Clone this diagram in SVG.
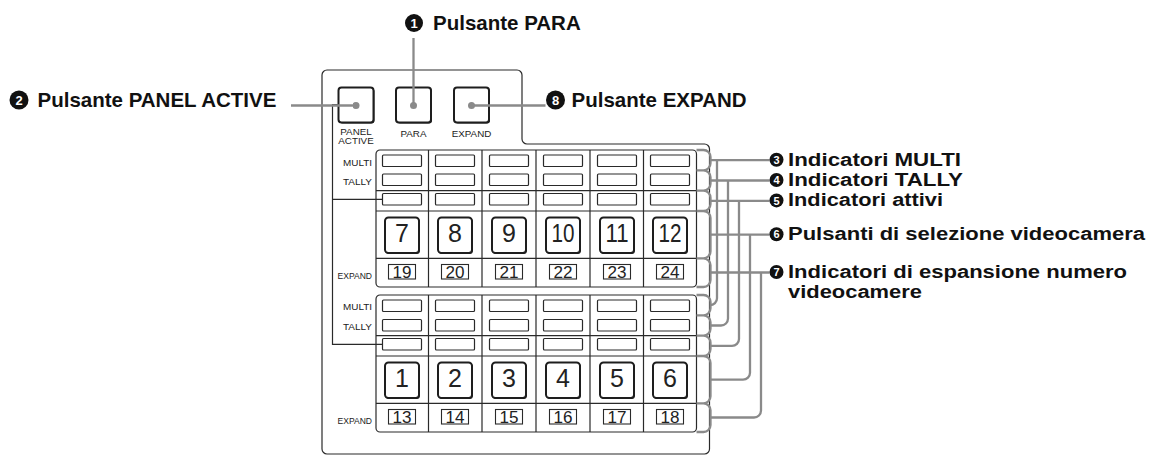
<svg xmlns="http://www.w3.org/2000/svg" width="1153" height="455" viewBox="0 0 1153 455">
<style>
.ln{fill:none;stroke:#2a2a2a;stroke-width:1.2}
.ind{fill:#fff;stroke:#2a2a2a;stroke-width:1.2}
.btnsh{fill:#1e1e1e}
.btn{fill:#fff;stroke:#1e1e1e;stroke-width:2}
.sbox{fill:#fff;stroke:#2a2a2a;stroke-width:1.1}
.gr{fill:none;stroke:#8a8a8a;stroke-width:2.3}
.lbl{font-family:"Liberation Sans",Arial,sans-serif;fill:#222}
.sm{font-size:9.5px;text-anchor:end}
.bl{font-size:9.8px;text-anchor:middle}
.num{font-size:25px;text-anchor:middle}
.snum{font-size:16px;text-anchor:middle}
.big{font-family:"Liberation Sans",Arial,sans-serif;font-weight:bold;fill:#111}
.t20{font-size:20.5px}
.t18{font-size:17.5px}
.cd{font-family:"Liberation Sans",Arial,sans-serif;font-weight:bold;fill:#fff;text-anchor:middle}
</style>
<defs>
<marker id="dot" viewBox="0 0 10 10" refX="5" refY="5" markerWidth="7" markerHeight="7" markerUnits="userSpaceOnUse"><circle cx="5" cy="5" r="5" fill="#8a8a8a"/></marker>
<g id="blk">
<rect x="376" y="0" width="320.5" height="137" rx="4" class="ln" fill="#fff"/>
<path class="ln" d="M428.5,0V137M482,0V137M536,0V137M590,0V137M643.5,0V137M376,40.7H696.5M376,61H696.5M376,108.3H696.5"/>
</g>
</defs>
<rect width="1153" height="455" fill="#fff"/>
<g id="panel">
<path class="ln" d="M327,70H517A5,5 0 0 1 522,75V139A5,5 0 0 0 527,144H704.5A5,5 0 0 1 709.5,149V449A5,5 0 0 1 704.5,454H327A5,5 0 0 1 322,449V75A5,5 0 0 1 327,70Z"/>
</g>
<g id="btn-panel-active">
<rect class="btnsh" x="339.5" y="88.5" width="35" height="35" rx="3"/>
<rect class="btn" x="338.5" y="87.5" width="35" height="35" rx="3"/>
<text class="lbl bl" x="356" y="134.8">PANEL</text>
<text class="lbl bl" x="356" y="143.5">ACTIVE</text>
</g>
<g id="btn-para">
<rect class="btnsh" x="397" y="88.5" width="35" height="35" rx="3"/>
<rect class="btn" x="396" y="87.5" width="35" height="35" rx="3"/>
<text class="lbl bl" x="413.5" y="136.5">PARA</text>
</g>
<g id="btn-expand">
<rect class="btnsh" x="455" y="88.5" width="35" height="35" rx="3"/>
<rect class="btn" x="454" y="87.5" width="35" height="35" rx="3"/>
<text class="lbl bl" x="471.5" y="136.5">EXPAND</text>
</g>
<g id="block-upper">
<use href="#blk" transform="translate(0,150)"/>
<text class="lbl sm" x="372" y="165.5" textLength="29" lengthAdjust="spacingAndGlyphs">MULTI</text>
<text class="lbl sm" x="372" y="185" textLength="29" lengthAdjust="spacingAndGlyphs">TALLY</text>
<text class="lbl sm" x="372" y="279" textLength="34.5" lengthAdjust="spacingAndGlyphs">EXPAND</text>
<g>
<rect class="ind" x="382.5" y="155" width="39" height="11.5" rx="1"/><rect class="ind" x="435.5" y="155" width="39" height="11.5" rx="1"/><rect class="ind" x="489.5" y="155" width="39" height="11.5" rx="1"/><rect class="ind" x="543.5" y="155" width="39" height="11.5" rx="1"/><rect class="ind" x="597.5" y="155" width="39" height="11.5" rx="1"/><rect class="ind" x="650.5" y="155" width="39" height="11.5" rx="1"/>
<rect class="ind" x="382.5" y="174" width="39" height="11.5" rx="1"/><rect class="ind" x="435.5" y="174" width="39" height="11.5" rx="1"/><rect class="ind" x="489.5" y="174" width="39" height="11.5" rx="1"/><rect class="ind" x="543.5" y="174" width="39" height="11.5" rx="1"/><rect class="ind" x="597.5" y="174" width="39" height="11.5" rx="1"/><rect class="ind" x="650.5" y="174" width="39" height="11.5" rx="1"/>
<rect class="ind" x="382.5" y="193.5" width="39" height="11.5" rx="1"/><rect class="ind" x="435.5" y="193.5" width="39" height="11.5" rx="1"/><rect class="ind" x="489.5" y="193.5" width="39" height="11.5" rx="1"/><rect class="ind" x="543.5" y="193.5" width="39" height="11.5" rx="1"/><rect class="ind" x="597.5" y="193.5" width="39" height="11.5" rx="1"/><rect class="ind" x="650.5" y="193.5" width="39" height="11.5" rx="1"/>
</g>
<g>
<rect class="btnsh" x="386" y="218.5" width="34" height="35.5" rx="3.5"/><rect class="btn" x="385" y="217.5" width="34" height="35.5" rx="3.5"/>
<rect class="btnsh" x="439" y="218.5" width="34" height="35.5" rx="3.5"/><rect class="btn" x="438" y="217.5" width="34" height="35.5" rx="3.5"/>
<rect class="btnsh" x="493" y="218.5" width="34" height="35.5" rx="3.5"/><rect class="btn" x="492" y="217.5" width="34" height="35.5" rx="3.5"/>
<rect class="btnsh" x="547" y="218.5" width="34" height="35.5" rx="3.5"/><rect class="btn" x="546" y="217.5" width="34" height="35.5" rx="3.5"/>
<rect class="btnsh" x="601" y="218.5" width="34" height="35.5" rx="3.5"/><rect class="btn" x="600" y="217.5" width="34" height="35.5" rx="3.5"/>
<rect class="btnsh" x="654" y="218.5" width="34" height="35.5" rx="3.5"/><rect class="btn" x="653" y="217.5" width="34" height="35.5" rx="3.5"/>
<text class="lbl num" x="402" y="242">7</text>
<text class="lbl num" x="455" y="242">8</text>
<text class="lbl num" x="509" y="242">9</text>
<text class="lbl num" x="563" y="242" textLength="23" lengthAdjust="spacingAndGlyphs">10</text>
<text class="lbl num" x="617" y="242" textLength="23" lengthAdjust="spacingAndGlyphs">11</text>
<text class="lbl num" x="670" y="242" textLength="23" lengthAdjust="spacingAndGlyphs">12</text>
</g>
<g>
<rect class="sbox" x="388.5" y="264.5" width="27" height="14.5"/><rect class="sbox" x="441.5" y="264.5" width="27" height="14.5"/><rect class="sbox" x="495.5" y="264.5" width="27" height="14.5"/><rect class="sbox" x="549.5" y="264.5" width="27" height="14.5"/><rect class="sbox" x="603.5" y="264.5" width="27" height="14.5"/><rect class="sbox" x="656.5" y="264.5" width="27" height="14.5"/>
<text class="lbl snum" x="402" y="277.8" textLength="19" lengthAdjust="spacingAndGlyphs">19</text>
<text class="lbl snum" x="455" y="277.8" textLength="19" lengthAdjust="spacingAndGlyphs">20</text>
<text class="lbl snum" x="509" y="277.8" textLength="19" lengthAdjust="spacingAndGlyphs">21</text>
<text class="lbl snum" x="563" y="277.8" textLength="19" lengthAdjust="spacingAndGlyphs">22</text>
<text class="lbl snum" x="617" y="277.8" textLength="19" lengthAdjust="spacingAndGlyphs">23</text>
<text class="lbl snum" x="670" y="277.8" textLength="19" lengthAdjust="spacingAndGlyphs">24</text>
</g>
</g>
<g id="block-lower">
<use href="#blk" transform="translate(0,295)"/>
<text class="lbl sm" x="372" y="310" textLength="29" lengthAdjust="spacingAndGlyphs">MULTI</text>
<text class="lbl sm" x="372" y="329.5" textLength="29" lengthAdjust="spacingAndGlyphs">TALLY</text>
<text class="lbl sm" x="372" y="423.5" textLength="34.5" lengthAdjust="spacingAndGlyphs">EXPAND</text>
<g>
<rect class="ind" x="382.5" y="300" width="39" height="11.5" rx="1"/><rect class="ind" x="435.5" y="300" width="39" height="11.5" rx="1"/><rect class="ind" x="489.5" y="300" width="39" height="11.5" rx="1"/><rect class="ind" x="543.5" y="300" width="39" height="11.5" rx="1"/><rect class="ind" x="597.5" y="300" width="39" height="11.5" rx="1"/><rect class="ind" x="650.5" y="300" width="39" height="11.5" rx="1"/>
<rect class="ind" x="382.5" y="319.5" width="39" height="11.5" rx="1"/><rect class="ind" x="435.5" y="319.5" width="39" height="11.5" rx="1"/><rect class="ind" x="489.5" y="319.5" width="39" height="11.5" rx="1"/><rect class="ind" x="543.5" y="319.5" width="39" height="11.5" rx="1"/><rect class="ind" x="597.5" y="319.5" width="39" height="11.5" rx="1"/><rect class="ind" x="650.5" y="319.5" width="39" height="11.5" rx="1"/>
<rect class="ind" x="382.5" y="338.5" width="39" height="11.5" rx="1"/><rect class="ind" x="435.5" y="338.5" width="39" height="11.5" rx="1"/><rect class="ind" x="489.5" y="338.5" width="39" height="11.5" rx="1"/><rect class="ind" x="543.5" y="338.5" width="39" height="11.5" rx="1"/><rect class="ind" x="597.5" y="338.5" width="39" height="11.5" rx="1"/><rect class="ind" x="650.5" y="338.5" width="39" height="11.5" rx="1"/>
</g>
<g>
<rect class="btnsh" x="386" y="363.5" width="34" height="35.5" rx="3.5"/><rect class="btn" x="385" y="362.5" width="34" height="35.5" rx="3.5"/>
<rect class="btnsh" x="439" y="363.5" width="34" height="35.5" rx="3.5"/><rect class="btn" x="438" y="362.5" width="34" height="35.5" rx="3.5"/>
<rect class="btnsh" x="493" y="363.5" width="34" height="35.5" rx="3.5"/><rect class="btn" x="492" y="362.5" width="34" height="35.5" rx="3.5"/>
<rect class="btnsh" x="547" y="363.5" width="34" height="35.5" rx="3.5"/><rect class="btn" x="546" y="362.5" width="34" height="35.5" rx="3.5"/>
<rect class="btnsh" x="601" y="363.5" width="34" height="35.5" rx="3.5"/><rect class="btn" x="600" y="362.5" width="34" height="35.5" rx="3.5"/>
<rect class="btnsh" x="654" y="363.5" width="34" height="35.5" rx="3.5"/><rect class="btn" x="653" y="362.5" width="34" height="35.5" rx="3.5"/>
<text class="lbl num" x="402" y="387">1</text>
<text class="lbl num" x="455" y="387">2</text>
<text class="lbl num" x="509" y="387">3</text>
<text class="lbl num" x="563" y="387">4</text>
<text class="lbl num" x="617" y="387">5</text>
<text class="lbl num" x="670" y="387">6</text>
</g>
<g>
<rect class="sbox" x="388.5" y="409.5" width="27" height="14.5"/><rect class="sbox" x="441.5" y="409.5" width="27" height="14.5"/><rect class="sbox" x="495.5" y="409.5" width="27" height="14.5"/><rect class="sbox" x="549.5" y="409.5" width="27" height="14.5"/><rect class="sbox" x="603.5" y="409.5" width="27" height="14.5"/><rect class="sbox" x="656.5" y="409.5" width="27" height="14.5"/>
<text class="lbl snum" x="402" y="422.8" textLength="19" lengthAdjust="spacingAndGlyphs">13</text>
<text class="lbl snum" x="455" y="422.8" textLength="19" lengthAdjust="spacingAndGlyphs">14</text>
<text class="lbl snum" x="509" y="422.8" textLength="19" lengthAdjust="spacingAndGlyphs">15</text>
<text class="lbl snum" x="563" y="422.8" textLength="19" lengthAdjust="spacingAndGlyphs">16</text>
<text class="lbl snum" x="617" y="422.8" textLength="19" lengthAdjust="spacingAndGlyphs">17</text>
<text class="lbl snum" x="670" y="422.8" textLength="19" lengthAdjust="spacingAndGlyphs">18</text>
</g>
</g>
<g id="connectors">
<path class="ln" d="M338,104.5H332.5V344.3H382.5M332.5,199.3H382.5"/>
<path class="gr" d="M413.5,38V105.5" marker-end="url(#dot)"/>
<path class="gr" d="M291,105.5H356" marker-end="url(#dot)"/>
<path class="gr" d="M471.5,105.5H545.5" marker-start="url(#dot)"/>
<path class="gr" d="M696.5,150H703.5A7,7 0 0 1 710.5,157V163.3A7,7 0 0 1 703.5,170.3H696.5M696.5,170.3H703.5A7,7 0 0 1 710.5,177.3V183.7A7,7 0 0 1 703.5,190.7H696.5M696.5,190.7H703.5A7,7 0 0 1 710.5,197.7V204A7,7 0 0 1 703.5,211H696.5M696.5,211H703.5A7,7 0 0 1 710.5,218V251.3A7,7 0 0 1 703.5,258.3H696.5M696.5,258.3H703.5A7,7 0 0 1 710.5,265.3V280A7,7 0 0 1 703.5,287H696.5"/>
<path class="gr" d="M696.5,295H703.5A7,7 0 0 1 710.5,302V308.3A7,7 0 0 1 703.5,315.3H696.5M696.5,315.3H703.5A7,7 0 0 1 710.5,322.3V328.7A7,7 0 0 1 703.5,335.7H696.5M696.5,335.7H703.5A7,7 0 0 1 710.5,342.7V349A7,7 0 0 1 703.5,356H696.5M696.5,356H703.5A7,7 0 0 1 710.5,363V396.3A7,7 0 0 1 703.5,403.3H696.5M696.5,403.3H703.5A7,7 0 0 1 710.5,410.3V425A7,7 0 0 1 703.5,432H696.5"/>
<path class="gr" d="M710.5,160.2H769.5M710.5,180.5H769.5M710.5,200.9H769.5M710.5,234.7H769.5M710.5,272.5H769.5"/>
<path class="gr" d="M717,160.2V298.2A7,7 0 0 1 710,305.2H710.5M728,180.5V318.5A7,7 0 0 1 721,325.5H710.5M739,200.9V338.9A7,7 0 0 1 732,345.9H710.5M750,234.7V372.7A7,7 0 0 1 743,379.7H710.5M761,272.5V410.5A7,7 0 0 1 754,417.5H710.5"/>
</g>
<g id="label-1">
<circle cx="414" cy="23" r="9" fill="#111"/>
<text class="cd" x="414" y="27.6" font-size="13">1</text>
<text class="big t20" x="433" y="30">Pulsante PARA</text>
</g>
<g id="label-2">
<circle cx="19" cy="100" r="9.5" fill="#111"/>
<text class="cd" x="19" y="104.6" font-size="13">2</text>
<text class="big t20" x="37.5" y="107">Pulsante PANEL ACTIVE</text>
</g>
<g id="label-8">
<circle cx="555.5" cy="100" r="9.5" fill="#111"/>
<text class="cd" x="555.5" y="104.6" font-size="13">8</text>
<text class="big t20" x="571.5" y="107">Pulsante EXPAND</text>
</g>
<g id="label-3">
<circle cx="776.5" cy="159.7" r="7" fill="#111"/>
<text class="cd" x="776.5" y="163.8" font-size="11">3</text>
<text class="big t18" x="788" y="165.7" textLength="173" lengthAdjust="spacingAndGlyphs">Indicatori MULTI</text>
</g>
<g id="label-4">
<circle cx="776.5" cy="180" r="7" fill="#111"/>
<text class="cd" x="776.5" y="184.1" font-size="11">4</text>
<text class="big t18" x="788" y="186" textLength="175" lengthAdjust="spacingAndGlyphs">Indicatori TALLY</text>
</g>
<g id="label-5">
<circle cx="776.5" cy="200.4" r="7" fill="#111"/>
<text class="cd" x="776.5" y="204.5" font-size="11">5</text>
<text class="big t18" x="788" y="206.4" textLength="155" lengthAdjust="spacingAndGlyphs">Indicatori attivi</text>
</g>
<g id="label-6">
<circle cx="776.5" cy="234.2" r="7" fill="#111"/>
<text class="cd" x="776.5" y="238.3" font-size="11">6</text>
<text class="big t18" x="788" y="240.2" textLength="357" lengthAdjust="spacingAndGlyphs">Pulsanti di selezione videocamera</text>
</g>
<g id="label-7">
<circle cx="776.5" cy="272" r="7" fill="#111"/>
<text class="cd" x="776.5" y="276.1" font-size="11">7</text>
<text class="big t18" x="788" y="278" textLength="339" lengthAdjust="spacingAndGlyphs">Indicatori di espansione numero</text>
<text class="big t18" x="788" y="298" textLength="134" lengthAdjust="spacingAndGlyphs">videocamere</text>
</g>
</svg>
